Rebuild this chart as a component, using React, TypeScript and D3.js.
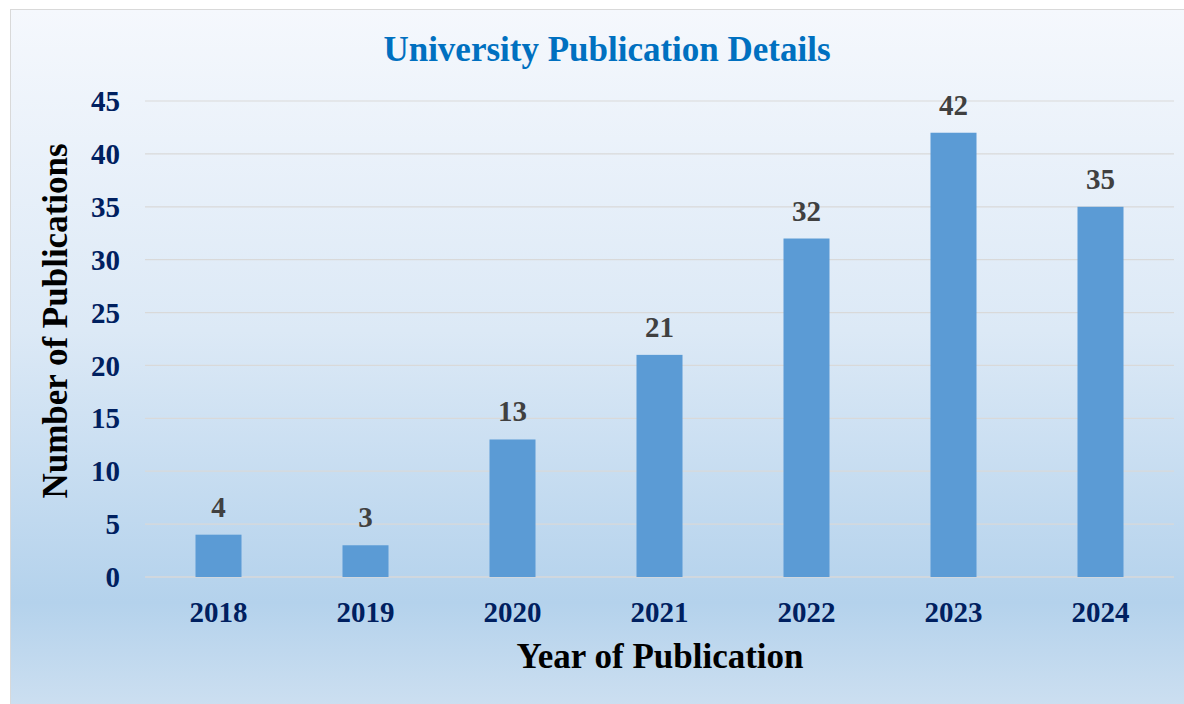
import * as d3 from 'd3';
import React from 'react';

const years = ['2018', '2019', '2020', '2021', '2022', '2023', '2024'];
const publications = [4, 3, 13, 21, 32, 42, 35];
const yTicks = [0, 5, 10, 15, 20, 25, 30, 35, 40, 45];

const W = 1184;
const H = 704;
const FONT = '"Liberation Serif", "Times New Roman", serif';

export default function App() {
  const margin = { left: 145, right: 10, top: 101, bottom: 127 };
  const x = d3
    .scaleBand<string>()
    .domain(years)
    .range([margin.left, W - margin.right])
    .paddingInner(0.687)
    .paddingOuter(0.3435);
  const y = d3
    .scaleLinear()
    .domain([0, 45])
    .range([H - margin.bottom, margin.top]);

  return (
    <svg
      width={W}
      height={H}
      style={{ position: 'absolute', left: 0, top: 0 }}
    >
      <defs>
        <linearGradient id='bg' x1='0' y1='0' x2='0' y2='1'>
          <stop offset='0' stopColor='#f5f8fd' />
          <stop offset='0.45' stopColor='#dce9f6' />
          <stop offset='0.83' stopColor='#b4d2ec' />
          <stop offset='1' stopColor='#d0e1f1' />
        </linearGradient>
      </defs>
      <rect x={0} y={0} width={W} height={H} fill='#ffffff' />
      <rect
        x={10.5}
        y={9.5}
        width={W + 10}
        height={H + 10}
        fill='url(#bg)'
        stroke='#d9d9d9'
        strokeWidth={1}
      />

      <text
        x={607}
        y={61}
        textAnchor='middle'
        fontFamily={FONT}
        fontWeight='bold'
        fontSize={35}
        fill='#0070c0'
      >
        University Publication Details
      </text>

      {yTicks.map((t) => (
        <g key={t}>
          <line
            x1={margin.left}
            x2={W - margin.right}
            y1={y(t)}
            y2={y(t)}
            stroke='#d9d9d9'
            strokeWidth={t === 0 ? 1.5 : 1.2}
          />
          <text
            x={120}
            y={y(t)}
            dy='0.35em'
            textAnchor='end'
            fontFamily={FONT}
            fontWeight='bold'
            fontSize={29}
            fill='#002060'
          >
            {t}
          </text>
        </g>
      ))}

      {years.map((yr, i) => (
        <g key={yr}>
          <rect
            x={x(yr)}
            y={y(publications[i])}
            width={x.bandwidth()}
            height={y(0) - y(publications[i])}
            fill='#5b9bd5'
          />
          <text
            x={(x(yr) ?? 0) + x.bandwidth() / 2}
            y={y(publications[i]) - 18}
            textAnchor='middle'
            fontFamily={FONT}
            fontWeight='bold'
            fontSize={29}
            fill='#404040'
          >
            {publications[i]}
          </text>
          <text
            x={(x(yr) ?? 0) + x.bandwidth() / 2}
            y={y(0) + 45}
            textAnchor='middle'
            fontFamily={FONT}
            fontWeight='bold'
            fontSize={29}
            fill='#002060'
          >
            {yr}
          </text>
        </g>
      ))}

      <text
        transform={`translate(67, 321) rotate(-90)`}
        textAnchor='middle'
        fontFamily={FONT}
        fontWeight='bold'
        fontSize={35}
        fill='#000000'
      >
        Number of Publications
      </text>
      <text
        x={660}
        y={668}
        textAnchor='middle'
        fontFamily={FONT}
        fontWeight='bold'
        fontSize={35}
        fill='#000000'
      >
        Year of Publication
      </text>
    </svg>
  );
}
